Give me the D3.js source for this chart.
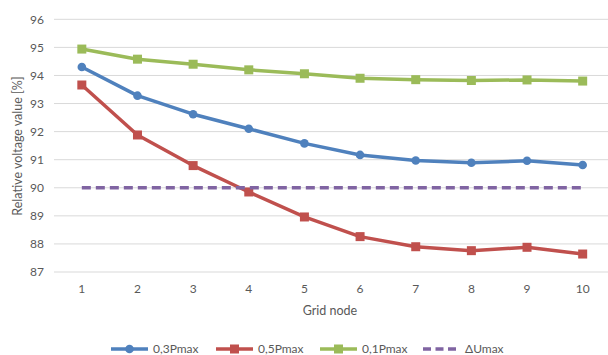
<!DOCTYPE html>
<html>
<head>
<meta charset="utf-8">
<script src="https://cdn.jsdelivr.net/npm/d3@7"></script>
<style>
  body { margin: 0; background: #fff; }
  text { font-family: Lato, "Open Sans", sans-serif; fill: #595959; }
</style>
</head>
<body>
<svg width="608" height="355"></svg>
<script>
// data
var nodes = [1, 2, 3, 4, 5, 6, 7, 8, 9, 10];
var p03 = [94.30, 93.28, 92.62, 92.10, 91.58, 91.17, 90.97, 90.89, 90.96, 90.81];
var p05 = [93.66, 91.88, 90.79, 89.85, 88.96, 88.26, 87.90, 87.76, 87.88, 87.64];
var p01 = [94.94, 94.58, 94.40, 94.20, 94.06, 93.90, 93.85, 93.82, 93.84, 93.80];
var dUmax = [90, 90, 90, 90, 90, 90, 90, 90, 90, 90];
var yTicks = [87, 88, 89, 90, 91, 92, 93, 94, 95, 96];

var series = [
  {name: "0,3Pmax", values: p03, color: "#4F81BD", marker: "circle"},
  {name: "0,5Pmax", values: p05, color: "#C0504D", marker: "square"},
  {name: "0,1Pmax", values: p01, color: "#9BBB59", marker: "square"},
  {name: "\u0394Umax", values: dUmax, color: "#8064A2", marker: "none", dash: "9,5"}
];

var svg = d3.select("svg");
// plot box
var plotL = 54, plotR = 610.5, plotT = 19.3, plotB = 272;

// scales
var x = d3.scaleBand().domain(nodes).range([plotL, plotR]).padding(0);
var y = d3.scaleLinear().domain([87, 96]).range([plotB, plotT]);
var cx = function(d) { return x(d) + x.bandwidth() / 2; };

// horizontal grid
svg.append("g")
  .selectAll("line")
  .data(yTicks)
  .enter().append("line")
    .attr("x1", plotL).attr("x2", 608)
    .attr("y1", function(d) { return y(d); })
    .attr("y2", function(d) { return y(d); })
    .attr("stroke", "#D9D9D9")
    .attr("stroke-width", 1);

// y tick labels
svg.append("g")
  .selectAll("text")
  .data(yTicks)
  .enter().append("text")
    .attr("x", 44)
    .attr("y", function(d) { return y(d); })
    .attr("dy", "0.35em")
    .attr("text-anchor", "end")
    .style("font-size", "12px")
    .text(function(d) { return d; });

// x tick labels
svg.append("g")
  .selectAll("text")
  .data(nodes)
  .enter().append("text")
    .attr("x", cx)
    .attr("y", 289)
    .attr("dy", "0.35em")
    .attr("text-anchor", "middle")
    .style("font-size", "12px")
    .text(function(d) { return d; });

// axis titles
svg.append("text")
  .attr("x", 330).attr("y", 311).attr("dy", "0.35em")
  .attr("text-anchor", "middle")
  .style("font-size", "12.5px")
  .text("Grid node");

svg.append("text")
  .attr("transform", "translate(18,146) rotate(-90)")
  .attr("dy", "0.35em")
  .attr("text-anchor", "middle")
  .style("font-size", "12.5px")
  .text("Relative voltage value [%]");

// lines
var line = d3.line()
  .x(function(d, i) { return cx(nodes[i]); })
  .y(function(d) { return y(d); });

series.forEach(function(s) {
  svg.append("path")
    .datum(s.values)
    .attr("fill", "none")
    .attr("stroke", s.color)
    .attr("stroke-width", 3.5)
    .attr("stroke-dasharray", s.dash || null)
    .attr("stroke-linejoin", "round")
    .attr("d", line);

  var g = svg.append("g");
  if (s.marker == "circle") {
    g.selectAll("circle")
      .data(s.values)
      .enter().append("circle")
        .attr("cx", function(d, i) { return cx(nodes[i]); })
        .attr("cy", function(d) { return y(d); })
        .attr("r", 4.3)
        .attr("fill", s.color);
  } else if (s.marker == "square") {
    g.selectAll("rect")
      .data(s.values)
      .enter().append("rect")
        .attr("x", function(d, i) { return cx(nodes[i]) - 4.5; })
        .attr("y", function(d) { return y(d) - 4.5; })
        .attr("width", 9).attr("height", 9)
        .attr("fill", s.color);
  }
});

// legend
var legX = [111, 216, 320, 423];
var legY = 349;
series.forEach(function(s, i) {
  var lg = svg.append("g").attr("transform", "translate(" + legX[i] + "," + legY + ")");
  lg.append("line")
    .attr("x1", 0).attr("x2", 37)
    .attr("stroke", s.color)
    .attr("stroke-width", 3.5)
    .attr("stroke-dasharray", s.dash ? "8,4.5" : null);
  if (s.marker == "circle") {
    lg.append("circle").attr("cx", 18.5).attr("r", 4.3).attr("fill", s.color);
  } else if (s.marker == "square") {
    lg.append("rect").attr("x", 14).attr("y", -4.5).attr("width", 9).attr("height", 9).attr("fill", s.color);
  }
  lg.append("text")
    .attr("x", 42).attr("dy", "0.35em")
    .style("font-size", "12px")
    .text(s.name);
});
</script>
</body>
</html>
